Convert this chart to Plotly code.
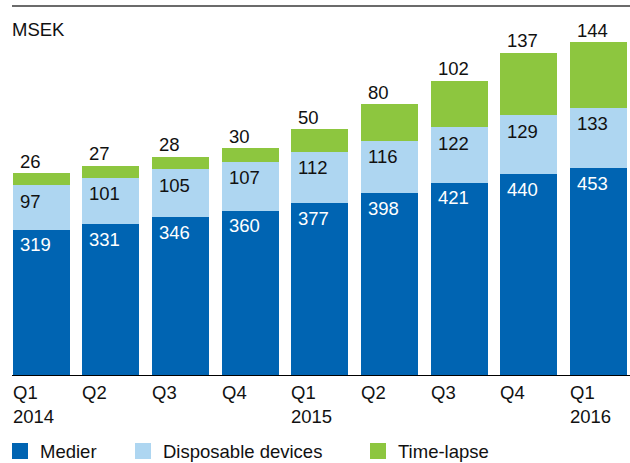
import plotly.graph_objects as go

quarters = ["Q1", "Q2", "Q3", "Q4", "Q1", "Q2", "Q3", "Q4", "Q1"]
years = ["2014", "", "", "", "2015", "", "", "", "2016"]
medier = [319, 331, 346, 360, 377, 398, 421, 440, 453]
disposable = [97, 101, 105, 107, 112, 116, 122, 129, 133]
timelapse = [26, 27, 28, 30, 50, 80, 102, 137, 144]
series_names = ["Medier", "Disposable devices", "Time-lapse"]
unit_label = "MSEK"

colors = ["#0064B2", "#AED6F1", "#8DC63F"]
FONT = "Liberation Sans"
FS = 18.5
BW = 0.818

x = list(range(len(quarters)))
fig = go.Figure()
for name, vals, col in zip(series_names, [medier, disposable, timelapse], colors):
    fig.add_trace(go.Bar(x=x, y=vals, name=name, marker=dict(color=col, line=dict(width=0)),
                         width=BW, showlegend=False, hoverinfo="skip"))

ann = []
for i in x:
    left = i - BW / 2
    top1 = medier[i]
    top2 = medier[i] + disposable[i]
    top3 = top2 + timelapse[i]
    ann.append(dict(x=left, y=top1, xref="x", yref="y", text=str(medier[i]), xanchor="left",
                    yanchor="middle", xshift=5, yshift=-15, showarrow=False,
                    font=dict(color="white", size=FS, family=FONT)))
    ann.append(dict(x=left, y=top2, xref="x", yref="y", text=str(disposable[i]), xanchor="left",
                    yanchor="middle", xshift=5, yshift=-16, showarrow=False,
                    font=dict(color="#111111", size=FS, family=FONT)))
    ann.append(dict(x=left, y=top3, xref="x", yref="y", text=str(timelapse[i]), xanchor="left",
                    yanchor="middle", xshift=5, yshift=12, showarrow=False,
                    font=dict(color="#111111", size=FS, family=FONT)))
    ann.append(dict(x=left, y=0, xref="x", yref="paper", text=quarters[i], xanchor="left",
                    yanchor="middle", xshift=-2, yshift=-17, showarrow=False,
                    font=dict(color="#111111", size=FS, family=FONT)))
    if years[i]:
        ann.append(dict(x=left, y=0, xref="x", yref="paper", text=years[i], xanchor="left",
                        yanchor="middle", xshift=-2, yshift=-41, showarrow=False,
                        font=dict(color="#111111", size=FS, family=FONT)))

ann.append(dict(x=0, y=1, xref="paper", yref="paper", text=unit_label, xanchor="left",
                yanchor="middle", xshift=-2, yshift=-23, showarrow=False,
                font=dict(color="#111111", size=FS, family=FONT)))

# legend drawn manually
shapes = []
leg_x = [0, 123, 358]
for (lx, name, col) in zip(leg_x, series_names, colors):
    shapes.append(dict(type="rect", xref="paper", yref="paper", xsizemode="pixel", ysizemode="pixel",
                       xanchor=0, yanchor=0, x0=lx, x1=lx + 16, y0=-68, y1=-84,
                       fillcolor=col, line=dict(width=0)))
    ann.append(dict(x=0, y=0, xref="paper", yref="paper", text=name, xanchor="left", yanchor="middle",
                    xshift=lx + 26, yshift=-76, showarrow=False,
                    font=dict(color="#111111", size=FS, family=FONT)))

shapes.append(dict(type="line", xref="paper", yref="paper", x0=0, x1=1, y0=1, y1=1,
                   line=dict(color="#6b6b6b", width=2), layer="above"))

fig.update_layout(
    barmode="stack",
    width=630, height=463,
    margin=dict(l=12, r=0, t=6, b=88),
    paper_bgcolor="white", plot_bgcolor="white",
    xaxis=dict(range=[-0.419, 8.453], showticklabels=False, showgrid=False, zeroline=False,
               showline=True, linecolor="black", linewidth=1, ticks=""),
    yaxis=dict(range=[0, 809], visible=False, showgrid=False, zeroline=False),
    annotations=ann, shapes=shapes, showlegend=False,
    font=dict(family=FONT, size=FS),
)
fig.write_html("out.html", config={"displayModeBar": False},
               post_script="document.body.style.margin='0';")
